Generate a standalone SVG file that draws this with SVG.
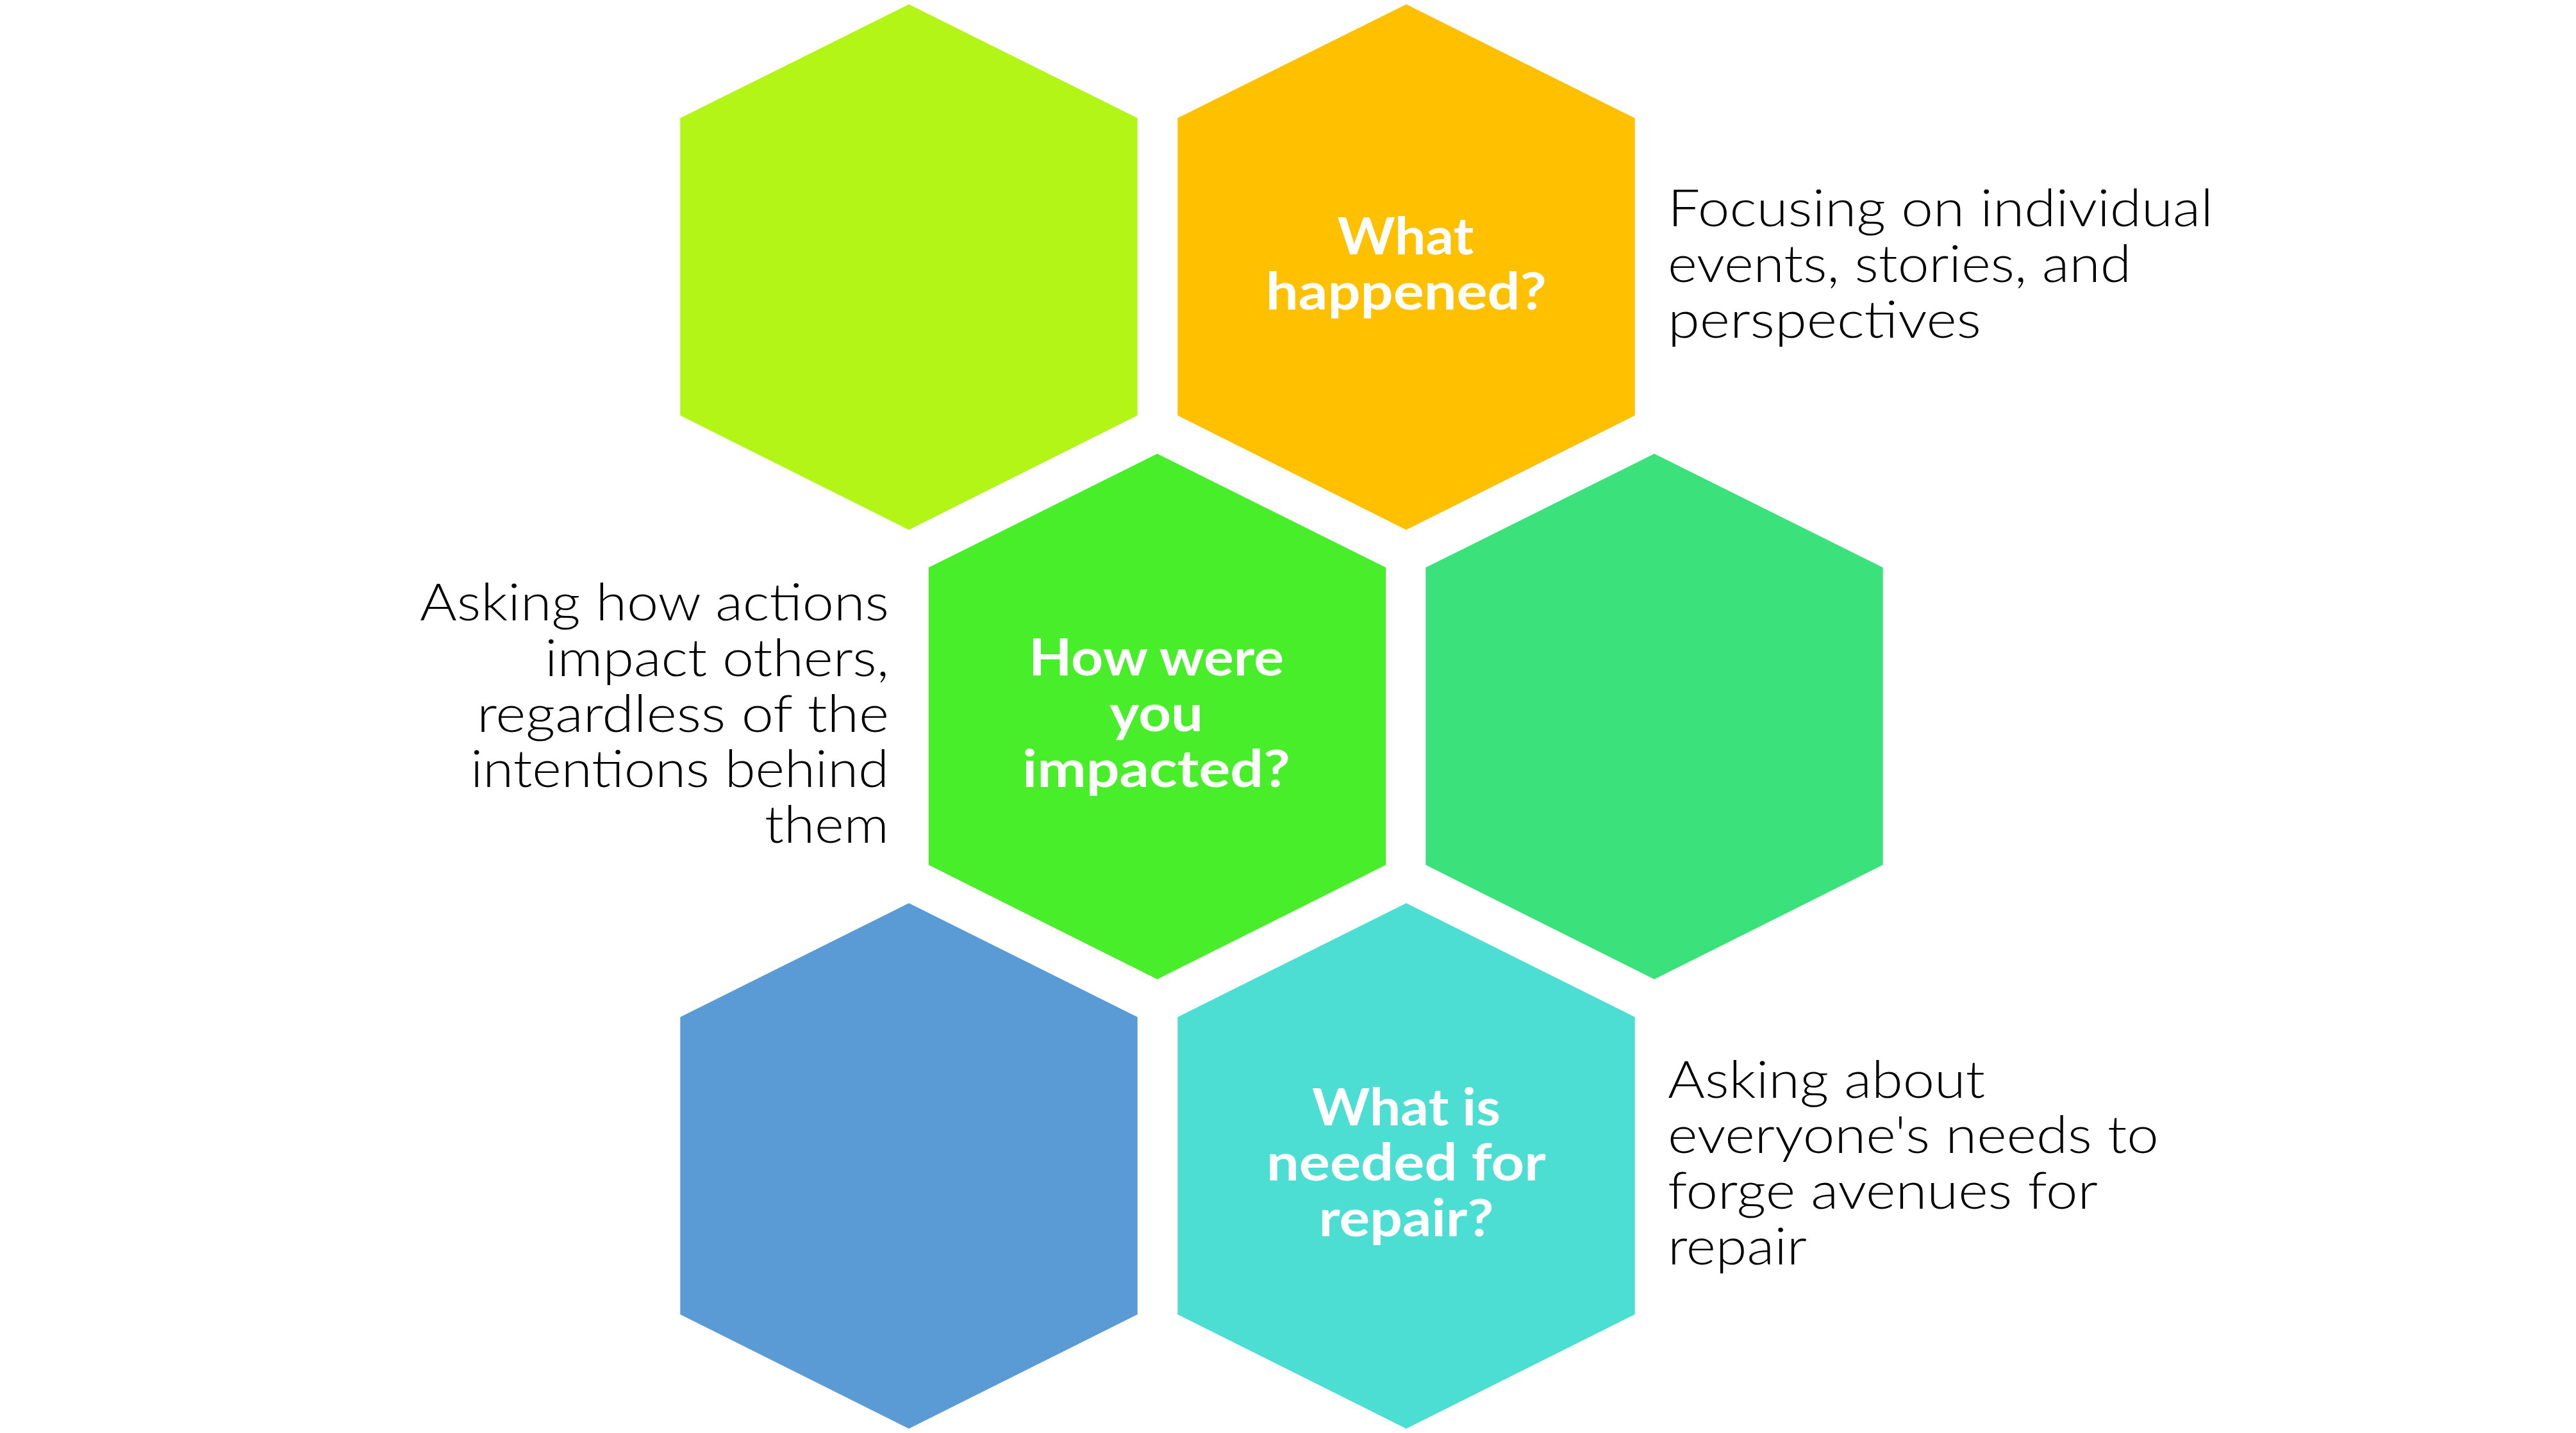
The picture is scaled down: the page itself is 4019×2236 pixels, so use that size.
<svg xmlns="http://www.w3.org/2000/svg" xmlns:xlink="http://www.w3.org/1999/xlink" width="4019" height="2236" viewBox="0 0 4019 2236">
<style>
.lbl{font-family:Lato,"Open Sans","Liberation Sans",sans-serif;font-weight:700;font-size:80px;fill:#ffffff;text-anchor:middle}
.desc{font-family:Lato,"Open Sans","Liberation Sans",sans-serif;font-weight:300;font-size:81px;fill:#000000}
.end{text-anchor:end}
</style>
<defs>
<polygon id="hex" points="0,0 356.7,177.6 356.7,641.6 0,820 -356.7,641.6 -356.7,177.6"/>
</defs>
<rect width="4019" height="2236" fill="#ffffff"/>
<g id="connectors"></g>
<g id="hex-lime"><use xlink:href="#hex" href="#hex" x="1418" y="6.7" fill="#B3F516"/></g>
<g id="hex-what-happened">
<use xlink:href="#hex" href="#hex" x="2194" y="6.7" fill="#FFC000"/>
<text class="lbl" x="2193" y="397" textLength="213" lengthAdjust="spacingAndGlyphs">What</text>
<text class="lbl" x="2194" y="483" textLength="438" lengthAdjust="spacingAndGlyphs">happened?</text>
</g>
<g id="hex-how-impacted">
<use xlink:href="#hex" href="#hex" x="1805.5" y="708" fill="#48EE2A"/>
<text class="lbl" x="1804" y="1054" textLength="398" lengthAdjust="spacingAndGlyphs">How were</text>
<text class="lbl" x="1804" y="1141" textLength="146" lengthAdjust="spacingAndGlyphs">you</text>
<text class="lbl" x="1804" y="1228" textLength="418" lengthAdjust="spacingAndGlyphs">impacted?</text>
</g>
<g id="hex-teal"><use xlink:href="#hex" href="#hex" x="2581" y="708" fill="#3BE27C"/></g>
<g id="hex-blue"><use xlink:href="#hex" href="#hex" x="1418" y="1409.3" fill="#5B9BD5"/></g>
<g id="hex-what-needed">
<use xlink:href="#hex" href="#hex" x="2194" y="1409.3" fill="#4CDDD3"/>
<text class="lbl" x="2194" y="1756" textLength="294" lengthAdjust="spacingAndGlyphs">What is</text>
<text class="lbl" x="2194" y="1842" textLength="436" lengthAdjust="spacingAndGlyphs">needed for</text>
<text class="lbl" x="2194" y="1929" textLength="273" lengthAdjust="spacingAndGlyphs">repair?</text>
</g>
<g id="desc-what-happened">
<text class="desc" x="2602" y="353" textLength="851" lengthAdjust="spacingAndGlyphs">Focusing on individual</text>
<text class="desc" x="2602" y="440" textLength="723" lengthAdjust="spacingAndGlyphs">events, stories, and</text>
<text class="desc" x="2602" y="527" textLength="489" lengthAdjust="spacingAndGlyphs">perspectives</text>
</g>
<g id="desc-how-impacted">
<text class="desc end" x="1387" y="968" textLength="732" lengthAdjust="spacingAndGlyphs">Asking how actions</text>
<text class="desc end" x="1387" y="1055" textLength="537" lengthAdjust="spacingAndGlyphs">impact others,</text>
<text class="desc end" x="1387" y="1142" textLength="643" lengthAdjust="spacingAndGlyphs">regardless of the</text>
<text class="desc end" x="1387" y="1228" textLength="653" lengthAdjust="spacingAndGlyphs">intentions behind</text>
<text class="desc end" x="1387" y="1315" textLength="194" lengthAdjust="spacingAndGlyphs">them</text>
</g>
<g id="desc-what-needed">
<text class="desc" x="2602" y="1713" textLength="495" lengthAdjust="spacingAndGlyphs">Asking about</text>
<text class="desc" x="2602" y="1799" textLength="766" lengthAdjust="spacingAndGlyphs">everyone's needs to</text>
<text class="desc" x="2602" y="1886" textLength="671" lengthAdjust="spacingAndGlyphs">forge avenues for</text>
<text class="desc" x="2602" y="1973" textLength="217" lengthAdjust="spacingAndGlyphs">repair</text>
</g>
</svg>
